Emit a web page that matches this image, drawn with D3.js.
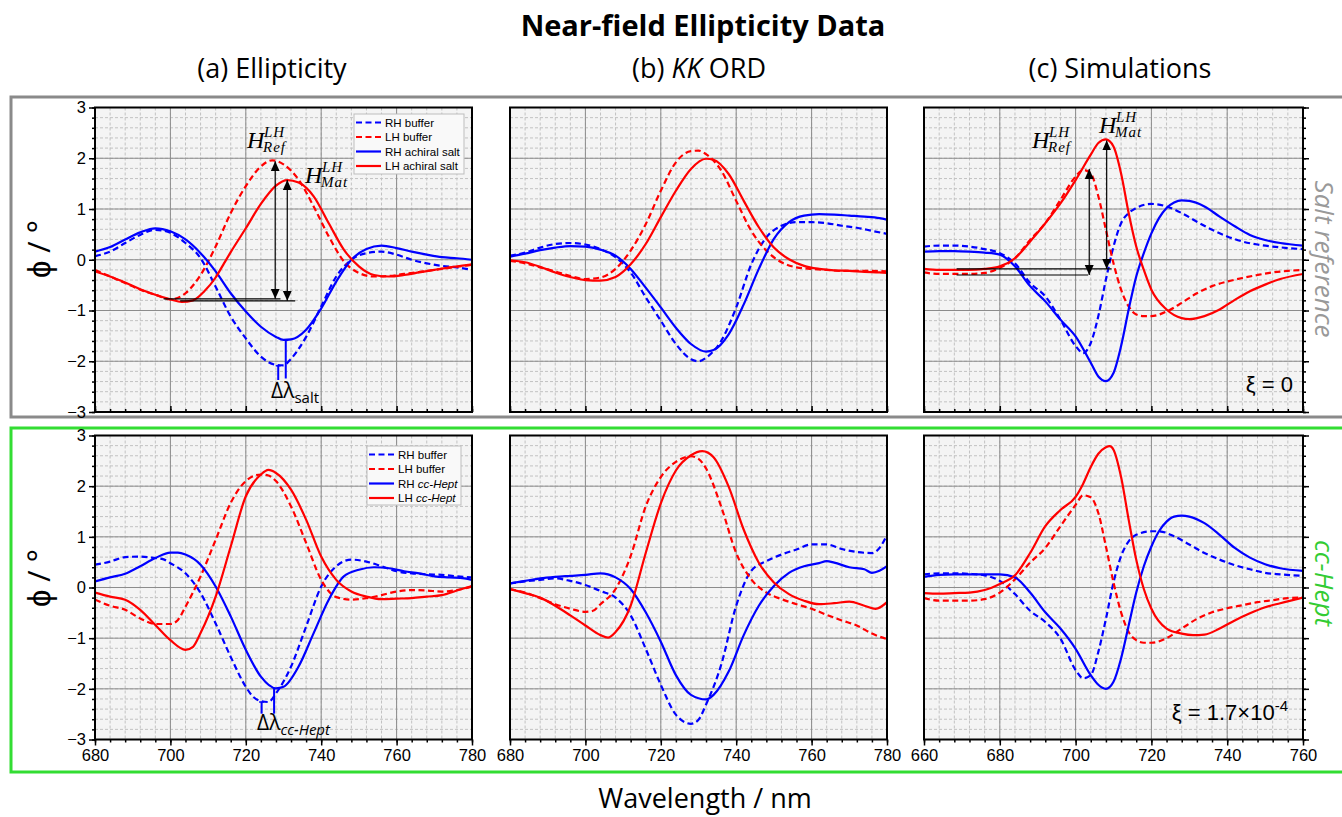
<html>

<head>
  <title>Near-field Ellipticity Data</title>
  <style>
    body { margin: 0; background: #fff; }
  </style>
</head>

<body>
  <script src="https://d3js.org/d3.v7.min.js"></script>
  <script>
    // ---- data (wavelength nm, ellipticity deg) ----
    var yTicks = [-3, -2, -1, 0, 1, 2, 3];
    var xTicksExp = [680, 700, 720, 740, 760, 780];
    var xTicksSim = [660, 680, 700, 720, 740, 760];

    var legendSalt = ["RH buffer", "LH buffer", "RH achiral salt", "LH achiral salt"];
    var legendHept = ["RH buffer", "LH buffer", "RH ", "LH "];

    // (a) ellipticity, salt reference
    var ellSaltRHbuf = [[680,0.07],[684,0.16],[688,0.33],[692,0.49],[696,0.59],[700,0.53],[704,0.33],[708,0.03],[712,-0.53],[716,-1.12],[720,-1.55],[724,-1.91],[728,-2.07],[730,-2.08],[732,-1.95],[736,-1.52],[740,-0.92],[744,-0.33],[748,0.0],[752,0.13],[756,0.16],[760,0.1],[764,0.0],[768,-0.07],[772,-0.12],[776,-0.15],[780,-0.2]];
    var ellSaltLHbuf = [[680,-0.2],[684,-0.33],[688,-0.46],[692,-0.59],[696,-0.69],[700,-0.78],[704,-0.66],[708,-0.30],[712,0.26],[716,0.92],[720,1.45],[724,1.84],[727,1.96],[730,1.88],[734,1.58],[738,1.05],[742,0.46],[746,-0.03],[750,-0.26],[754,-0.33],[758,-0.32],[762,-0.28],[766,-0.24],[770,-0.20],[774,-0.16],[778,-0.12],[780,-0.1]];
    var ellSaltRH = [[680,0.16],[684,0.25],[688,0.40],[692,0.54],[696,0.62],[700,0.56],[704,0.40],[708,0.13],[712,-0.23],[716,-0.66],[720,-1.02],[724,-1.32],[728,-1.52],[730,-1.58],[732,-1.57],[736,-1.38],[740,-0.96],[744,-0.43],[748,0.0],[752,0.21],[756,0.28],[760,0.23],[764,0.16],[768,0.10],[772,0.05],[776,0.03],[780,0.0]];
    var ellSaltLH = [[680,-0.23],[684,-0.33],[688,-0.45],[692,-0.58],[696,-0.69],[700,-0.78],[703,-0.83],[706,-0.80],[709,-0.62],[712,-0.35],[714,-0.1],[716,0.15],[720,0.62],[724,1.10],[728,1.46],[731,1.57],[734,1.52],[738,1.25],[742,0.72],[746,0.20],[750,-0.13],[754,-0.30],[758,-0.33],[762,-0.30],[766,-0.25],[770,-0.20],[774,-0.15],[778,-0.11],[780,-0.09]];

    // (b) KK ORD, salt reference
    var kkSaltRHbuf = [[680,0.08],[684,0.14],[688,0.24],[692,0.31],[696,0.33],[700,0.30],[704,0.21],[708,0.05],[712,-0.25],[716,-0.74],[720,-1.20],[724,-1.66],[728,-1.96],[730,-2.0],[732,-1.93],[736,-1.60],[740,-0.94],[744,-0.09],[748,0.44],[752,0.67],[756,0.74],[760,0.74],[764,0.72],[768,0.67],[772,0.63],[776,0.57],[780,0.51]];
    var kkSaltLHbuf = [[680,-0.02],[684,-0.07],[688,-0.15],[692,-0.23],[696,-0.32],[700,-0.38],[704,-0.35],[708,-0.18],[712,0.18],[716,0.70],[720,1.36],[724,1.92],[728,2.14],[730,2.15],[732,2.08],[736,1.76],[740,1.16],[744,0.57],[748,0.18],[752,-0.05],[756,-0.15],[760,-0.18],[764,-0.20],[768,-0.22],[772,-0.22],[776,-0.22],[780,-0.23]];
    var kkSaltRH = [[680,0.06],[684,0.12],[688,0.19],[692,0.24],[696,0.27],[700,0.26],[704,0.20],[708,0.08],[712,-0.18],[716,-0.55],[720,-0.94],[724,-1.34],[728,-1.66],[732,-1.81],[734,-1.78],[738,-1.47],[742,-0.88],[746,-0.18],[750,0.41],[754,0.74],[758,0.87],[762,0.90],[766,0.89],[770,0.87],[774,0.85],[778,0.82],[780,0.79]];
    var kkSaltLH = [[680,-0.01],[684,-0.05],[688,-0.14],[692,-0.25],[696,-0.34],[700,-0.40],[704,-0.41],[708,-0.34],[712,-0.09],[716,0.31],[720,0.84],[724,1.36],[728,1.79],[732,1.99],[734,1.97],[738,1.69],[742,1.16],[746,0.64],[750,0.24],[754,0.01],[758,-0.12],[762,-0.18],[766,-0.21],[770,-0.22],[774,-0.24],[778,-0.25],[780,-0.26]];

    // (c) simulations, xi = 0
    var simSaltRHbuf = [[660,0.26],[664,0.28],[668,0.28],[672,0.26],[676,0.21],[680,0.13],[684,-0.07],[688,-0.46],[692,-0.72],[696,-1.18],[700,-1.70],[702,-1.84],[704,-1.64],[706,-1.11],[708,-0.39],[710,0.26],[712,0.72],[714,0.92],[716,1.02],[720,1.10],[724,1.05],[728,0.92],[732,0.75],[736,0.59],[740,0.46],[744,0.36],[748,0.30],[752,0.26],[756,0.23],[760,0.21]];
    var simSaltLHbuf = [[660,-0.25],[664,-0.28],[668,-0.28],[672,-0.28],[676,-0.26],[680,-0.16],[684,0.03],[688,0.39],[692,0.72],[696,1.18],[700,1.64],[702,1.77],[704,1.70],[706,1.25],[708,0.59],[710,-0.07],[712,-0.59],[714,-0.92],[716,-1.08],[718,-1.11],[720,-1.11],[724,-1.02],[728,-0.85],[732,-0.66],[736,-0.52],[740,-0.43],[744,-0.36],[748,-0.30],[752,-0.25],[756,-0.22],[760,-0.20]];
    var simSaltRH = [[660,0.16],[664,0.17],[668,0.17],[672,0.16],[676,0.14],[680,0.10],[684,-0.13],[688,-0.52],[692,-0.82],[696,-1.18],[700,-1.51],[704,-2.03],[706,-2.30],[708,-2.39],[710,-2.23],[712,-1.70],[714,-0.98],[716,-0.33],[718,0.13],[720,0.52],[722,0.82],[724,1.02],[726,1.13],[728,1.17],[730,1.16],[734,1.05],[738,0.85],[742,0.66],[746,0.49],[750,0.39],[754,0.33],[760,0.28]];
    var simSaltLH = [[660,-0.18],[664,-0.20],[668,-0.20],[672,-0.20],[676,-0.18],[680,-0.13],[684,0.03],[688,0.36],[692,0.72],[696,1.11],[700,1.57],[704,2.07],[706,2.30],[708,2.37],[710,2.23],[712,1.70],[714,0.92],[716,0.26],[718,-0.20],[720,-0.59],[724,-0.98],[728,-1.15],[730,-1.17],[734,-1.11],[738,-0.98],[742,-0.79],[746,-0.62],[750,-0.49],[754,-0.38],[760,-0.28]];

    // (a) ellipticity, cc-Hept
    var ellHeptRHbuf = [[680,0.45],[684,0.51],[688,0.60],[692,0.61],[696,0.58],[698,0.56],[700,0.48],[704,0.28],[708,-0.11],[712,-0.71],[716,-1.37],[720,-1.96],[722,-2.16],[724,-2.24],[726,-2.26],[728,-2.09],[732,-1.56],[736,-0.77],[740,0.02],[744,0.42],[748,0.55],[752,0.51],[756,0.42],[760,0.32],[764,0.28],[768,0.26],[772,0.25],[776,0.22],[780,0.20]];
    var ellHeptLHbuf = [[680,-0.24],[684,-0.36],[688,-0.44],[692,-0.61],[696,-0.72],[700,-0.72],[702,-0.64],[704,-0.38],[708,0.22],[712,0.94],[716,1.67],[720,2.10],[724,2.23],[726,2.21],[728,2.10],[732,1.60],[736,0.88],[740,0.15],[744,-0.19],[748,-0.24],[752,-0.21],[756,-0.15],[760,-0.08],[764,-0.05],[768,-0.06],[772,-0.08],[776,-0.05],[780,0.02]];
    var ellHeptRH = [[680,0.12],[684,0.20],[688,0.27],[692,0.42],[696,0.58],[700,0.69],[702,0.69],[704,0.65],[708,0.45],[712,0.02],[716,-0.57],[720,-1.23],[724,-1.76],[728,-1.99],[730,-1.96],[734,-1.56],[738,-0.90],[742,-0.24],[746,0.22],[750,0.35],[754,0.40],[758,0.38],[762,0.32],[766,0.28],[770,0.22],[774,0.20],[778,0.18],[780,0.15]];
    var ellHeptLH = [[680,-0.10],[684,-0.18],[688,-0.24],[692,-0.44],[696,-0.74],[700,-1.04],[704,-1.23],[706,-1.17],[708,-0.90],[712,-0.18],[716,0.81],[720,1.80],[724,2.23],[726,2.32],[728,2.26],[732,1.93],[736,1.34],[740,0.61],[744,0.15],[748,-0.08],[752,-0.18],[756,-0.23],[760,-0.22],[764,-0.21],[768,-0.18],[772,-0.15],[776,-0.06],[780,0.03]];

    // (b) KK ORD, cc-Hept
    var kkHeptRHbuf = [[680,0.08],[684,0.12],[688,0.15],[692,0.18],[696,0.13],[700,0.05],[704,-0.07],[708,-0.20],[712,-0.55],[716,-1.21],[720,-1.92],[724,-2.51],[728,-2.69],[730,-2.61],[732,-2.31],[736,-1.53],[740,-0.36],[744,0.33],[748,0.52],[752,0.65],[756,0.75],[760,0.85],[764,0.85],[768,0.76],[772,0.70],[776,0.68],[778,0.78],[780,1.04]];
    var kkHeptLHbuf = [[680,-0.03],[684,-0.10],[688,-0.21],[692,-0.33],[696,-0.42],[700,-0.48],[702,-0.46],[704,-0.33],[708,-0.03],[712,0.62],[716,1.60],[720,2.18],[724,2.48],[728,2.59],[730,2.54],[732,2.35],[736,1.60],[740,0.68],[744,0.16],[748,-0.10],[752,-0.23],[756,-0.33],[760,-0.42],[764,-0.54],[768,-0.65],[772,-0.75],[776,-0.91],[780,-1.02]];
    var kkHeptRH = [[680,0.08],[684,0.13],[688,0.18],[692,0.21],[696,0.23],[700,0.25],[704,0.28],[706,0.26],[708,0.20],[712,-0.03],[716,-0.49],[720,-1.07],[724,-1.73],[728,-2.12],[732,-2.21],[734,-2.12],[738,-1.66],[742,-0.94],[746,-0.36],[750,0.03],[754,0.29],[758,0.42],[762,0.48],[764,0.52],[766,0.49],[770,0.40],[774,0.36],[776,0.29],[778,0.33],[780,0.42]];
    var kkHeptLH = [[680,-0.03],[684,-0.11],[688,-0.20],[692,-0.36],[696,-0.55],[700,-0.75],[704,-0.94],[706,-0.99],[708,-0.88],[712,-0.36],[716,0.68],[720,1.66],[724,2.31],[728,2.61],[731,2.69],[734,2.57],[738,1.99],[742,1.14],[746,0.49],[750,0.10],[754,-0.13],[758,-0.26],[762,-0.33],[766,-0.31],[770,-0.28],[774,-0.36],[777,-0.42],[780,-0.29]];

    // (c) simulations, xi = 1.7e-4
    var simHeptRHbuf = [[660,0.26],[664,0.28],[668,0.28],[672,0.27],[676,0.24],[680,0.13],[684,-0.13],[688,-0.46],[692,-0.68],[696,-1.01],[700,-1.63],[702,-1.79],[704,-1.73],[706,-1.27],[708,-0.62],[710,0.10],[712,0.62],[714,0.91],[716,1.04],[720,1.11],[722,1.11],[726,1.01],[730,0.85],[734,0.68],[738,0.55],[742,0.44],[746,0.36],[750,0.29],[754,0.26],[760,0.23]];
    var simHeptLHbuf = [[660,-0.21],[664,-0.26],[668,-0.26],[672,-0.26],[676,-0.23],[680,-0.10],[684,0.16],[688,0.49],[692,0.78],[696,1.21],[700,1.63],[702,1.82],[704,1.78],[706,1.47],[708,0.81],[710,0.10],[712,-0.49],[714,-0.88],[716,-1.04],[718,-1.09],[720,-1.09],[724,-1.00],[728,-0.81],[732,-0.62],[736,-0.49],[740,-0.41],[744,-0.35],[748,-0.29],[752,-0.25],[756,-0.21],[760,-0.20]];
    var simHeptRH = [[660,0.21],[664,0.25],[668,0.26],[672,0.26],[676,0.26],[680,0.26],[684,0.20],[688,-0.10],[692,-0.49],[696,-0.81],[700,-1.21],[704,-1.73],[706,-1.92],[708,-2.00],[710,-1.86],[712,-1.40],[714,-0.75],[716,-0.10],[718,0.42],[720,0.81],[722,1.11],[724,1.30],[726,1.40],[728,1.42],[730,1.40],[734,1.27],[738,1.04],[742,0.78],[746,0.59],[750,0.46],[754,0.38],[760,0.33]];
    var simHeptLH = [[660,-0.11],[664,-0.12],[668,-0.11],[672,-0.10],[676,-0.05],[680,0.07],[684,0.24],[688,0.68],[692,1.21],[696,1.53],[700,1.79],[702,2.05],[704,2.38],[706,2.64],[708,2.77],[709,2.79],[710,2.72],[712,2.18],[714,1.34],[716,0.55],[718,-0.03],[720,-0.42],[724,-0.81],[728,-0.91],[731,-0.94],[734,-0.93],[738,-0.81],[742,-0.65],[746,-0.51],[750,-0.39],[754,-0.31],[760,-0.20]];

    // ---- layout ----
    var sansFont = "'Liberation Sans', Arial, sans-serif";
    var titleFont = "'Open Sans', sans-serif";
    var blue = "#0000ff", red = "#ff0000", dash = "6,3.5";

    var svg = d3.select("body").append("svg")
      .attr("width", 1342)
      .attr("height", 817)
      .style("font-family", sansFont);

    svg.append("defs").append("marker")
      .attr("id", "head")
      .attr("viewBox", "0 0 10 10")
      .attr("refX", 10).attr("refY", 5)
      .attr("markerWidth", 10).attr("markerHeight", 10)
      .attr("markerUnits", "userSpaceOnUse")
      .attr("orient", "auto-start-reverse")
      .append("path").attr("d", "M0,0.5 L10,5 L0,9.5 Z").attr("fill", "black");

    // row frames
    svg.append("rect").attr("x", 11).attr("y", 97).attr("width", 1345).attr("height", 320)
      .attr("fill", "none").attr("stroke", "#8a8a8a").attr("stroke-width", 3);
    svg.append("rect").attr("x", 11).attr("y", 428).attr("width", 1345).attr("height", 344)
      .attr("fill", "none").attr("stroke", "#33dd33").attr("stroke-width", 3);

    var cols = [{ left: 95, w: 377 }, { left: 510, w: 377 }, { left: 924, w: 379 }];
    var rows = [{ top: 107.5, h: 304.5 }, { top: 435.5, h: 304 }];
    var clipId = 0;

    function drawPanel(col, row, xdom, xTicks, series, opt) {
      var c = cols[col], r = rows[row];
      var g = svg.append("g").attr("transform", "translate(" + c.left + "," + r.top + ")");
      var x = d3.scaleLinear().domain(xdom).range([0, c.w]);
      var y = d3.scaleLinear().domain([-3, 3]).range([r.h, 0]);

      g.append("rect").attr("width", c.w).attr("height", r.h).attr("fill", "#f4f4f4");

      var xMinor = d3.range(xdom[0], xdom[1] + 1, 4);
      var yMinor = d3.range(-30, 31, 2).map(function (d) { return d / 10; });

      g.selectAll(".vmin").data(xMinor).enter().append("line")
        .attr("x1", x).attr("x2", x).attr("y1", 0).attr("y2", r.h)
        .attr("stroke", "#c2c2c2").attr("stroke-dasharray", "3,2");
      g.selectAll(".hmin").data(yMinor).enter().append("line")
        .attr("y1", y).attr("y2", y).attr("x1", 0).attr("x2", c.w)
        .attr("stroke", "#c2c2c2").attr("stroke-dasharray", "3,2");
      g.selectAll(".vmaj").data(xTicks).enter().append("line")
        .attr("x1", x).attr("x2", x).attr("y1", 0).attr("y2", r.h)
        .attr("stroke", "#8c8c8c");
      g.selectAll(".hmaj").data(yTicks).enter().append("line")
        .attr("y1", y).attr("y2", y).attr("x1", 0).attr("x2", c.w)
        .attr("stroke", "#8c8c8c");

      clipId++;
      g.append("clipPath").attr("id", "clip" + clipId)
        .append("rect").attr("width", c.w).attr("height", r.h);

      var line = d3.line()
        .x(function (d) { return x(d[0]); })
        .y(function (d) { return y(d[1]); })
        .curve(d3.curveMonotoneX);

      series.forEach(function (s) {
        g.append("path")
          .datum(s.data)
          .attr("clip-path", "url(#clip" + clipId + ")")
          .attr("d", line)
          .attr("fill", "none")
          .attr("stroke", s.color)
          .attr("stroke-width", 2.2)
          .attr("stroke-dasharray", s.dashed ? dash : null);
      });

      g.append("rect").attr("width", c.w).attr("height", r.h)
        .attr("fill", "none").attr("stroke", "black").attr("stroke-width", 2);

      // bottom ticks: inward on the top row, outward with labels on the bottom row
      var bottom = row === 1;
      g.append("g").attr("transform", "translate(0," + r.h + ")")
        .call(d3.axisBottom(x).tickValues(xTicks).tickSize(bottom ? 6 : -6).tickPadding(4)
          .tickFormat(bottom ? d3.format("d") : ""));
      g.append("g").attr("transform", "translate(0," + r.h + ")")
        .call(d3.axisBottom(x).tickValues(xMinor).tickSize(bottom ? 3 : -3).tickFormat(""));

      if (opt.left) {
        g.append("g").call(d3.axisLeft(y).tickValues(yTicks).tickSize(6).tickPadding(3).tickFormat(d3.format("d")));
        g.append("g").call(d3.axisLeft(y).tickValues(yMinor).tickSize(3).tickFormat(""));
      }
      if (opt.right) {
        g.append("g").attr("transform", "translate(" + c.w + ",0)")
          .call(d3.axisRight(y).tickValues(yTicks).tickSize(6).tickFormat(""));
        g.append("g").attr("transform", "translate(" + c.w + ",0)")
          .call(d3.axisRight(y).tickValues(yMinor).tickSize(3).tickFormat(""));
      }
      g.selectAll(".domain").remove();
      g.selectAll(".tick line").attr("stroke", "black").attr("stroke-width", 1.5);
      g.selectAll(".tick text").attr("font-size", 16.5).attr("font-family", sansFont).attr("fill", "black");

      return { g: g, x: x, y: y, left: c.left, top: r.top, w: c.w, h: r.h };
    }

    function legend(p, bx, by, bw, bh, labels, italicTail) {
      var lg = p.g.append("g").attr("transform", "translate(" + (bx - p.left) + "," + (by - p.top) + ")");
      lg.append("rect").attr("width", bw).attr("height", bh)
        .attr("fill", "#f9f9f9").attr("stroke", "#bdbdbd");
      var styles = [[blue, true], [red, true], [blue, false], [red, false]];
      labels.forEach(function (lab, i) {
        var yy = 8.5 + i * 14.5;
        lg.append("line").attr("x1", 2).attr("x2", 27).attr("y1", yy).attr("y2", yy)
          .attr("stroke", styles[i][0]).attr("stroke-width", 2.2)
          .attr("stroke-dasharray", styles[i][1] ? dash : null);
        var t = lg.append("text").attr("x", 31).attr("y", yy + 4.2).attr("font-size", 11.5).text(lab);
        if (italicTail && i > 1) t.append("tspan").attr("font-style", "italic").text(italicTail);
      });
    }

    function vArrow(p, lam, v0, v1) {
      p.g.append("line")
        .attr("x1", p.x(lam)).attr("x2", p.x(lam))
        .attr("y1", p.y(v0)).attr("y2", p.y(v1))
        .attr("stroke", "black").attr("stroke-width", 1.2)
        .attr("marker-start", "url(#head)").attr("marker-end", "url(#head)");
    }
    function hLine(p, l0, l1, v) {
      p.g.append("line")
        .attr("x1", p.x(l0)).attr("x2", p.x(l1))
        .attr("y1", p.y(v)).attr("y2", p.y(v))
        .attr("stroke", "black").attr("stroke-width", 1.2);
    }
    function minMark(p, lam, v0, v1, cap) {
      p.g.append("line")
        .attr("x1", p.x(lam)).attr("x2", p.x(lam))
        .attr("y1", p.y(v0)).attr("y2", p.y(v1))
        .attr("stroke", blue).attr("stroke-width", 2);
      if (cap) {
        p.g.append("line")
          .attr("x1", p.x(lam) - 2.5).attr("x2", p.x(lam) + 2.5)
          .attr("y1", p.y(v0)).attr("y2", p.y(v0))
          .attr("stroke", blue).attr("stroke-width", 1.5);
      }
    }
    function hLabel(px, py, sub) {
      var serif = "'Liberation Serif', 'DejaVu Serif', serif";
      svg.append("text").attr("x", px).attr("y", py).attr("font-family", serif)
        .attr("font-style", "italic").attr("font-size", 24).text("H");
      svg.append("text").attr("x", px + 17).attr("y", py - 11).attr("font-family", serif)
        .attr("font-style", "italic").attr("font-size", 15).attr("letter-spacing", 1).text("LH");
      svg.append("text").attr("x", px + 16).attr("y", py + 4).attr("font-family", serif)
        .attr("font-style", "italic").attr("font-size", 15).attr("letter-spacing", 1).text(sub);
    }

    // ---- panels ----
    var pA1 = drawPanel(0, 0, [680, 780], xTicksExp, [
      { data: ellSaltRHbuf, color: blue, dashed: true },
      { data: ellSaltLHbuf, color: red, dashed: true },
      { data: ellSaltRH, color: blue, dashed: false },
      { data: ellSaltLH, color: red, dashed: false }
    ], { left: true });
    var pB1 = drawPanel(1, 0, [680, 780], xTicksExp, [
      { data: kkSaltRHbuf, color: blue, dashed: true },
      { data: kkSaltLHbuf, color: red, dashed: true },
      { data: kkSaltRH, color: blue, dashed: false },
      { data: kkSaltLH, color: red, dashed: false }
    ], {});
    var pC1 = drawPanel(2, 0, [660, 760], xTicksSim, [
      { data: simSaltRHbuf, color: blue, dashed: true },
      { data: simSaltLHbuf, color: red, dashed: true },
      { data: simSaltRH, color: blue, dashed: false },
      { data: simSaltLH, color: red, dashed: false }
    ], { right: true });
    var pA2 = drawPanel(0, 1, [680, 780], xTicksExp, [
      { data: ellHeptRHbuf, color: blue, dashed: true },
      { data: ellHeptLHbuf, color: red, dashed: true },
      { data: ellHeptRH, color: blue, dashed: false },
      { data: ellHeptLH, color: red, dashed: false }
    ], { left: true });
    var pB2 = drawPanel(1, 1, [680, 780], xTicksExp, [
      { data: kkHeptRHbuf, color: blue, dashed: true },
      { data: kkHeptLHbuf, color: red, dashed: true },
      { data: kkHeptRH, color: blue, dashed: false },
      { data: kkHeptLH, color: red, dashed: false }
    ], {});
    var pC2 = drawPanel(2, 1, [660, 760], xTicksSim, [
      { data: simHeptRHbuf, color: blue, dashed: true },
      { data: simHeptLHbuf, color: red, dashed: true },
      { data: simHeptRH, color: blue, dashed: false },
      { data: simHeptLH, color: red, dashed: false }
    ], { right: true });

    legend(pA1, 354, 114, 110, 60, legendSalt, null);
    legend(pA2, 367, 446, 94, 59, legendHept, "cc-Hept");

    // annotations (a) salt
    hLine(pA1, 698.2, 729.2, -0.77);
    hLine(pA1, 702.6, 733.1, -0.81);
    vArrow(pA1, 727.8, 1.94, -0.77);
    vArrow(pA1, 731.0, 1.57, -0.81);
    hLabel(247, 148, "Ref");
    hLabel(305, 183, "Mat");
    minMark(pA1, 728.6, -2.09, -2.37, true);
    minMark(pA1, 730.6, -1.58, -2.34, false);
    svg.append("text").attr("x", 271).attr("y", 398).attr("font-family", titleFont).attr("font-size", 21)
      .text("Δλ").append("tspan").attr("font-size", 15).attr("dy", 5).text("salt");

    // annotations (a) cc-Hept
    minMark(pA2, 724.2, -2.26, -2.49, true);
    minMark(pA2, 727.5, -1.99, -2.49, false);
    var dl = svg.append("text").attr("x", 257).attr("y", 730).attr("font-family", titleFont).attr("font-size", 21).text("Δλ");
    dl.append("tspan").attr("font-size", 15).attr("dy", 5).attr("font-style", "italic").text("cc-Hept");

    // annotations (c) salt
    hLine(pC1, 668.6, 709.5, -0.18);
    hLine(pC1, 668.6, 703.3, -0.30);
    vArrow(pC1, 703.6, 1.79, -0.30);
    vArrow(pC1, 708.2, 2.35, -0.18);
    hLabel(1032, 148, "Ref");
    hLabel(1099, 133, "Mat");
    svg.append("text").attr("x", 1293).attr("y", 392).attr("text-anchor", "end").attr("font-size", 22).text("ξ = 0");
    var xi = svg.append("text").attr("x", 1288).attr("y", 720).attr("text-anchor", "end").attr("font-size", 22).text("ξ = 1.7×10");
    xi.append("tspan").attr("font-size", 15).attr("dy", -9).text("-4");

    // ---- titles and axis labels ----
    svg.append("text").attr("x", 703).attr("y", 36).attr("text-anchor", "middle")
      .attr("font-family", titleFont).attr("font-weight", "bold").attr("font-size", 29)
      .text("Near-field Ellipticity Data");
    svg.append("text").attr("x", 272).attr("y", 78).attr("text-anchor", "middle")
      .attr("font-family", titleFont).attr("font-size", 27).text("(a) Ellipticity");
    var tb = svg.append("text").attr("x", 699).attr("y", 78).attr("text-anchor", "middle")
      .attr("font-family", titleFont).attr("font-size", 27).text("(b) ");
    tb.append("tspan").attr("font-style", "italic").text("KK");
    tb.append("tspan").text(" ORD");
    svg.append("text").attr("x", 1120).attr("y", 78).attr("text-anchor", "middle")
      .attr("font-family", titleFont).attr("font-size", 27).text("(c) Simulations");

    svg.append("text").attr("x", 705).attr("y", 808).attr("text-anchor", "middle")
      .attr("font-family", titleFont).attr("font-size", 27).text("Wavelength / nm");

    [249, 578].forEach(function (cy) {
      svg.append("text")
        .attr("transform", "translate(50," + cy + ") rotate(-90)")
        .attr("text-anchor", "middle")
        .attr("font-family", titleFont).attr("font-size", 31)
        .text("ϕ / °");
    });

    svg.append("text")
      .attr("transform", "translate(1315,259) rotate(90)")
      .attr("text-anchor", "middle").attr("font-family", titleFont)
      .attr("font-style", "italic").attr("font-size", 26).attr("fill", "#999999")
      .text("Salt reference");
    svg.append("text")
      .attr("transform", "translate(1315,583) rotate(90)")
      .attr("text-anchor", "middle").attr("font-family", titleFont)
      .attr("font-style", "italic").attr("font-size", 26).attr("fill", "#33cc33")
      .text("cc-Hept");
  </script>
</body>

</html>
